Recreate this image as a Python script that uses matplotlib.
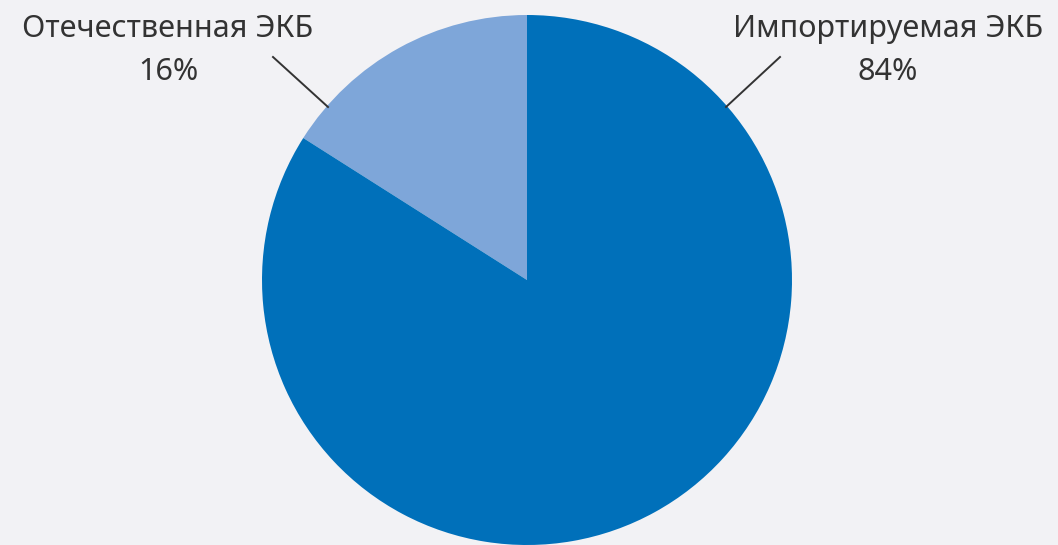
import matplotlib.pyplot as plt

# данные
labels = ["Отечественная ЭКБ", "Импортируемая ЭКБ"]
values = [16, 84]
colors = ["#7EA6D9", "#0070BA"]

plt.rcParams['font.family'] = ['Noto Sans', 'DejaVu Sans']

fig = plt.figure(figsize=(10.58, 5.45), dpi=100)
fig.patch.set_facecolor("#F2F2F5")
ax = fig.add_axes([0, 0, 1, 1])
ax.set_facecolor("#F2F2F5")

cx, cy, r = 527, 265, 265
ax.pie(values, colors=colors, startangle=90, counterclock=True,
       center=(cx, cy), radius=r, frame=True,
       wedgeprops=dict(linewidth=0))
# pixel-like coordinates, y up
ax.set_xlim(0, 1058)
ax.set_ylim(0, 545)
ax.axis("off")

# подписи
for x, lab, v in zip([168, 888], labels, values):
    ax.text(x, 516, lab, ha="center", va="center", fontsize=22, color="#333333")
    ax.text(x, 473, f"{v}%", ha="center", va="center", fontsize=22, color="#333333")

# выноски
ax.plot([273, 328], [488, 438], color="#333333", lw=1.4)
ax.plot([780, 726], [488, 438], color="#333333", lw=1.4)

fig.savefig("out.png", dpi=100, facecolor=fig.get_facecolor())
